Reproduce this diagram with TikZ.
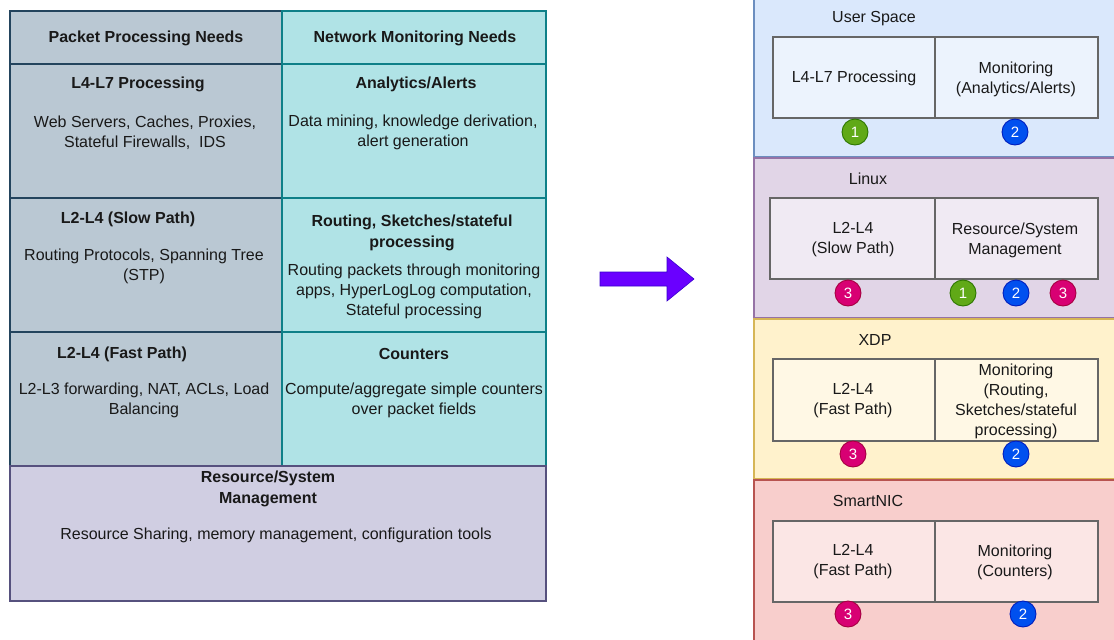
\documentclass[tikz,border=0pt]{standalone}
\usepackage{fontspec}
\setmainfont{Liberation Sans}
\definecolor{leftfill}{HTML}{BAC8D3}\definecolor{leftdraw}{HTML}{23445D}
\definecolor{rightfill}{HTML}{B0E3E6}\definecolor{rightdraw}{HTML}{0E8088}
\definecolor{botfill}{HTML}{D0CEE2}\definecolor{botdraw}{HTML}{56517E}
\definecolor{usfill}{HTML}{DAE8FC}\definecolor{usdraw}{HTML}{6C8EBF}
\definecolor{lxfill}{HTML}{E1D5E7}\definecolor{lxdraw}{HTML}{9673A6}
\definecolor{xdpfill}{HTML}{FFF2CC}\definecolor{xdpdraw}{HTML}{D6B656}
\definecolor{snfill}{HTML}{F8CECC}\definecolor{sndraw}{HTML}{B85450}
\definecolor{bgreen}{HTML}{60A917}\definecolor{bgreend}{HTML}{2D7600}
\definecolor{bblue}{HTML}{0050EF}\definecolor{bblued}{HTML}{001DBC}
\definecolor{bpink}{HTML}{D80073}\definecolor{bpinkd}{HTML}{A50040}
\definecolor{arrfill}{HTML}{6A00FF}\definecolor{arrdraw}{HTML}{3700CC}
\definecolor{boxdraw}{HTML}{666666}
\begin{document}
\begin{tikzpicture}[x=1pt,y=-1pt,
  cellL/.style={draw=leftdraw, fill=leftfill, line width=1.2pt},
  cellR/.style={draw=rightdraw, fill=rightfill, line width=1.2pt},
  cellB/.style={draw=botdraw, fill=botfill, line width=1.2pt},
  txt/.style={align=center, inner sep=0pt, text=black!90, font=\fontsize{16}{19.8}\selectfont},
  ttl/.style={align=center, inner sep=0pt, text=black!90, font=\fontsize{16}{20.5}\selectfont\bfseries},
  panel/.style={line width=1.8pt},
  ibox/.style={draw=boxdraw, fill=white, fill opacity=0.5, draw opacity=1, line width=2.8pt},
  rtxt/.style={align=center, inner sep=0pt, text=black!90, font=\fontsize{16}{20}\selectfont},
  badge/.style={circle, minimum size=26pt, inner sep=0pt, line width=0.9pt, text=white, font=\fontsize{15}{18}\selectfont},
  g/.style={badge, fill=bgreen, draw=bgreend},
  b/.style={badge, fill=bblue, draw=bblued},
  p/.style={badge, fill=bpink, draw=bpinkd}
]
\useasboundingbox (0,0) rectangle (1114,640);
\clip (0,0) rectangle (1114,640);
\fill[white] (0,0) rectangle (1114,640);

% ---------- left table ----------
\path[cellL] (10,11) rectangle (282,64);
\path[cellL] (10,64) rectangle (282,198);
\path[cellL] (10,198) rectangle (282,332);
\path[cellL] (10,332) rectangle (282,466);
\path[cellR] (282,11) rectangle (546,64);
\path[cellR] (282,64) rectangle (546,198);
\path[cellR] (282,198) rectangle (546,332);
\path[cellR] (282,332) rectangle (546,466);
\path[cellB] (10,466) rectangle (546,601);

\node[ttl] (hL) at (146,38) {Packet Processing Needs};
\node[ttl] (hR) at (415,38) {Network Monitoring Needs};

\node[ttl] (t1L) at (138,84.5) {L4-L7 Processing};
\node[txt] (b1L) at (145,132.5) {Web Servers, Caches, Proxies,\\Stateful Firewalls,\ \ IDS};
\node[ttl] (t1R) at (416,84.5) {Analytics/Alerts};
\node[txt] (b1R) at (413,132.5) {Data mining, knowledge derivation,\\alert generation};

\node[ttl] (t2L) at (128,219) {L2-L4 (Slow Path)};
\node[txt] (b2L) at (144,266.5) {Routing Protocols, Spanning Tree\\(STP)};
\node[ttl] (t2R) at (412,233) {Routing, Sketches/stateful\\processing};
\node[txt] (b2R) at (414,291.5) {Routing packets through monitoring\\apps, HyperLogLog computation,\\Stateful processing};

\node[ttl] (t3L) at (122,354) {L2-L4 (Fast Path)};
\node[txt] (b3L) at (144,400.5) {L2-L3 forwarding, NAT, ACLs, Load\\Balancing};
\node[ttl] (t3R) at (414,354) {Counters};
\node[txt] (b3R) at (414,400.5) {Compute/aggregate simple counters\\over packet fields};

\node[ttl] (tB) at (268,489) {Resource/System\\Management};
\node[txt] (bB) at (276,535) {Resource Sharing, memory management, configuration tools};

% ---------- arrow ----------
\filldraw[fill=arrfill, draw=arrdraw, line width=0.6pt, line join=miter]
  (600,272) -- (667,272) -- (667,257) -- (694,279) -- (667,301) -- (667,286) -- (600,286) -- cycle;

% ---------- right panels ----------
\path[panel, fill=usfill, draw=usdraw] (754,-5) rectangle (1120,157);
\path[panel, fill=lxfill, draw=lxdraw] (754,158) rectangle (1120,318);
\path[panel, fill=xdpfill, draw=xdpdraw] (754,319) rectangle (1120,479);
\path[panel, fill=snfill, draw=sndraw] (754,480) rectangle (1120,645);

% User Space
\node[rtxt] (us) at (874,18.5) {User Space};
\path[ibox] (773,37) rectangle (935,118);
\path[ibox] (935,37) rectangle (1098,118);
\node[rtxt] (usL) at (854,78) {L4-L7 Processing};
\node[rtxt] (usR) at (1016,79) {Monitoring\\(Analytics/Alerts)};
\node[g] (us1) at (855,132) {1};
\node[b] (us2) at (1015,132) {2};

% Linux
\node[rtxt] (lx) at (868,179) {Linux};
\path[ibox] (770,198) rectangle (935,279);
\path[ibox] (935,198) rectangle (1098,279);
\node[rtxt] (lxL) at (853,240) {L2-L4\\(Slow Path)};
\node[rtxt] (lxR) at (1015,240) {Resource/System\\Management};
\node[p] (lx3a) at (848,293) {3};
\node[g] (lx1) at (963,293) {1};
\node[b] (lx2) at (1016,293) {2};
\node[p] (lx3b) at (1063,293) {3};

% XDP
\node[rtxt] (xd) at (875,340) {XDP};
\path[ibox] (773,359) rectangle (935,441);
\path[ibox] (935,359) rectangle (1098,441);
\node[rtxt] (xdL) at (853,401) {L2-L4\\(Fast Path)};
\node[rtxt] (xdR) at (1016,401) {Monitoring\\(Routing,\\Sketches/stateful\\processing)};
\node[p] (xd3) at (853,454) {3};
\node[b] (xd2) at (1016,454) {2};

% SmartNIC
\node[rtxt] (sn) at (868,501) {SmartNIC};
\path[ibox] (773,521) rectangle (935,602);
\path[ibox] (935,521) rectangle (1098,602);
\node[rtxt] (snL) at (853,562) {L2-L4\\(Fast Path)};
\node[rtxt] (snR) at (1015,562) {Monitoring\\(Counters)};
\node[p] (sn3) at (848,614) {3};
\node[b] (sn2) at (1023,614) {2};
\end{tikzpicture}
\end{document}
